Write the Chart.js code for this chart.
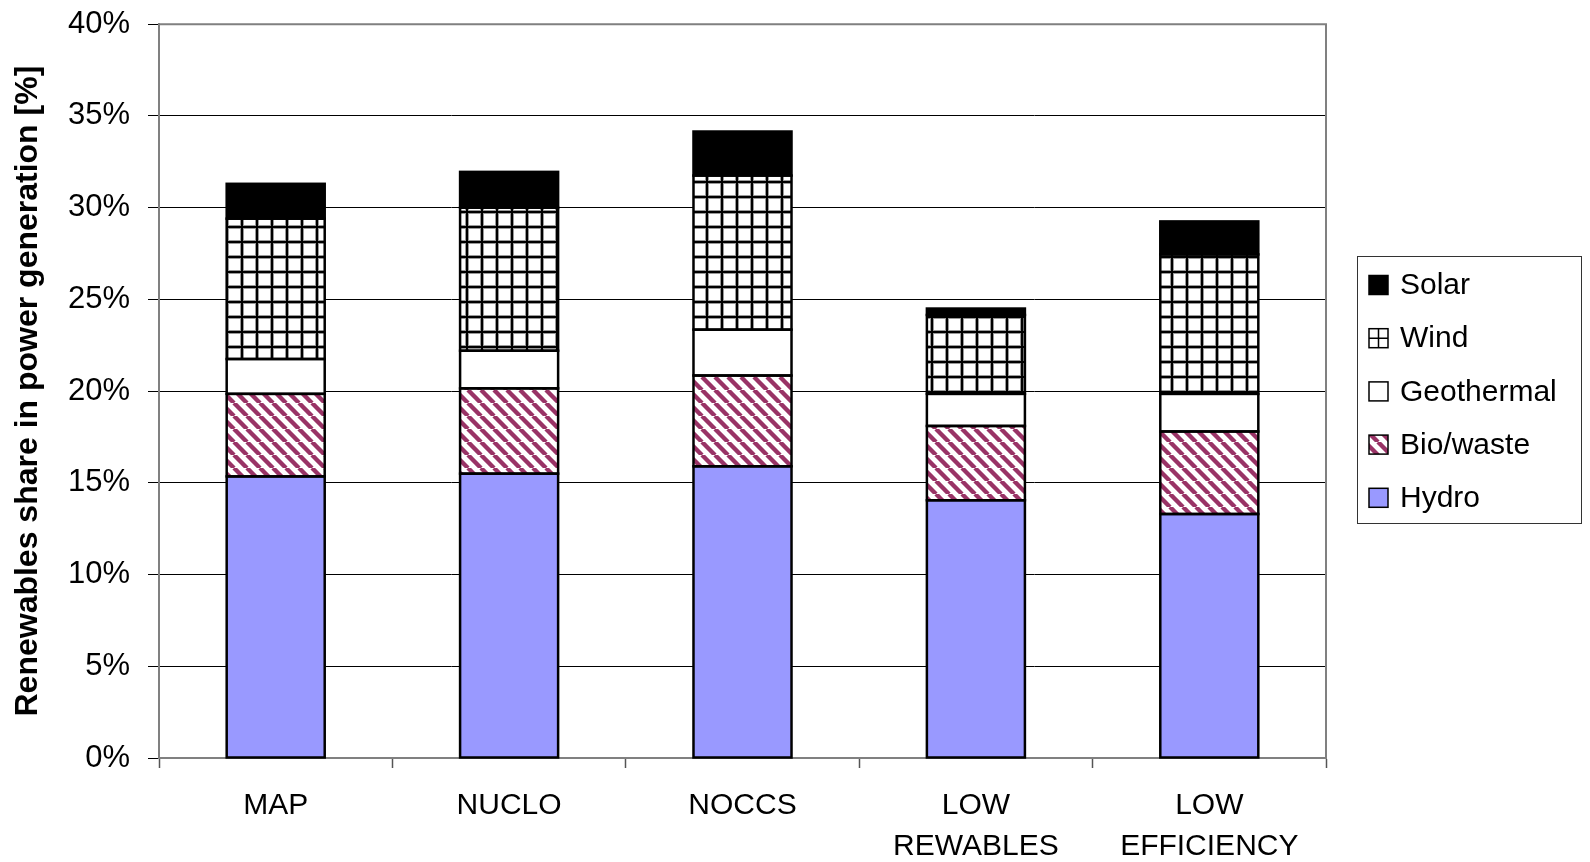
<!DOCTYPE html>
<html>
<head>
<meta charset="utf-8">
<script src="https://cdn.jsdelivr.net/npm/chart.js@4.4.0/dist/chart.umd.min.js"></script>
<style>
  body { margin: 0; background: #fff; }
</style>
</head>
<body>
<canvas id="renewablesChart" width="1590" height="862"></canvas>
<script>
const categories = [['MAP'], ['NUCLO'], ['NOCCS'], ['LOW', 'REWABLES'], ['LOW', 'EFFICIENCY']];
const hydro = [15.35, 15.5, 15.9, 14.05, 13.3];
const bioWaste = [4.5, 4.65, 4.95, 4.05, 4.5];
const geothermal = [1.9, 2.05, 2.5, 1.75, 2.05];
const wind = [7.65, 7.8, 8.4, 4.3, 7.6];
const solar = [1.9, 1.95, 2.4, 0.35, 1.8];
const yMax = 40;
const yStep = 5;

const FONT = 'Liberation Sans, Arial, sans-serif';

// grid pattern for wind
function makeGridPattern() {
  const c = document.createElement('canvas');
  c.width = 15; c.height = 15;
  const g = c.getContext('2d');
  g.fillStyle = '#fff';
  g.fillRect(0, 0, 15, 15);
  g.fillStyle = '#999';
  g.fillRect(0, 0, 15, 4);
  g.fillRect(0, 0, 4, 15);
  g.fillStyle = '#000';
  g.fillRect(0, 1, 15, 2);
  g.fillRect(1, 0, 2, 15);
  return g.createPattern(c, 'repeat');
}

// diagonal stripes for bio/waste
function makeStripePattern() {
  const s = 13;
  const c = document.createElement('canvas');
  c.width = s; c.height = s;
  const g = c.getContext('2d');
  g.fillStyle = '#fff';
  g.fillRect(0, 0, s, s);
  g.strokeStyle = '#993366';
  g.lineWidth = 4.4;
  for (const x of [-s, 0, s]) {
    g.beginPath();
    g.moveTo(x, 0);
    g.lineTo(x + s, s);
    g.stroke();
  }
  return g.createPattern(c, 'repeat');
}

const gridPattern = makeGridPattern();
const stripePattern = makeStripePattern();

function series(label, data, fill) {
  return {
    label: label,
    data: data,
    backgroundColor: fill,
    borderWidth: 0,
    barPercentage: 0.42,
    categoryPercentage: 1
  };
}

// bar outlines, gray frame around the plot, boxed legend
const framePlugin = {
  id: 'frame',
  afterDatasetsDraw(chart) {
    const { ctx, chartArea: a } = chart;
    ctx.save();
    ctx.strokeStyle = '#000';
    ctx.lineWidth = 2.5;
    chart.data.datasets.forEach((ds, i) => {
      chart.getDatasetMeta(i).data.forEach(bar => {
        const p = bar.getProps(['x', 'y', 'base', 'width'], true);
        ctx.strokeRect(p.x - p.width / 2, p.y, p.width, p.base - p.y);
      });
    });
    ctx.strokeStyle = '#808080';
    ctx.lineWidth = 2;
    ctx.beginPath();
    ctx.moveTo(a.left, a.top);
    ctx.lineTo(a.right, a.top);
    ctx.lineTo(a.right, a.bottom);
    ctx.stroke();
    ctx.restore();
  },
  afterDraw(chart) {
    const ctx = chart.ctx;
    const boxLeft = 1357, boxTop = 256, boxW = 224, boxH = 267;
    ctx.save();
    ctx.fillStyle = '#fff';
    ctx.fillRect(boxLeft, boxTop, boxW, boxH);
    ctx.strokeStyle = '#333';
    ctx.lineWidth = 1;
    ctx.strokeRect(boxLeft + 0.5, boxTop + 0.5, boxW, boxH);
    ctx.font = '30px ' + FONT;
    ctx.textBaseline = 'middle';
    const items = chart.data.datasets.slice().reverse();
    items.forEach((ds, i) => {
      const cy = 285 + i * 53.2;
      const sx = 1369, sz = 19;
      ctx.fillStyle = ds.backgroundColor;
      ctx.fillRect(sx, cy - sz / 2, sz, sz);
      ctx.strokeStyle = '#000';
      ctx.lineWidth = 1.5;
      if (ds.label === 'Wind') {
        ctx.fillStyle = '#fff';
        ctx.fillRect(sx, cy - sz / 2, sz, sz);
        ctx.beginPath();
        ctx.moveTo(sx + sz / 2, cy - sz / 2);
        ctx.lineTo(sx + sz / 2, cy + sz / 2);
        ctx.moveTo(sx, cy);
        ctx.lineTo(sx + sz, cy);
        ctx.stroke();
      }
      ctx.strokeRect(sx, cy - sz / 2, sz, sz);
      ctx.fillStyle = '#000';
      ctx.fillText(ds.label, 1400, cy + 1);
    });
    ctx.restore();
  }
};

const ctx = document.getElementById('renewablesChart').getContext('2d');
const renewablesChart = new Chart(ctx, {
  type: 'bar',
  data: {
    labels: categories,
    datasets: [
      series('Hydro', hydro, '#9999ff'),
      series('Bio/waste', bioWaste, stripePattern),
      series('Geothermal', geothermal, '#ffffff'),
      series('Wind', wind, gridPattern),
      series('Solar', solar, '#000000')
    ]
  },
  options: {
    responsive: false,
    animation: false,
    layout: { padding: { top: 0, right: 264, left: 0, bottom: 0 } },
    plugins: {
      legend: { display: false },
      tooltip: { enabled: false }
    },
    scales: {
      x: {
        stacked: true,
        grid: {
          display: true,
          drawOnChartArea: false,
          offset: true,
          tickLength: 10,
          tickColor: '#555',
          tickWidth: 1.5
        },
        border: { color: '#808080', width: 2 },
        ticks: {
          color: '#000',
          font: { family: FONT, size: 30, lineHeight: 1.37 },
          padding: 17,
          maxRotation: 0,
          autoSkip: false
        },
        afterFit(scale) { scale.height = 104; }
      },
      y: {
        stacked: true,
        min: 0,
        max: yMax,
        grid: {
          color: '#000',
          lineWidth: 1,
          tickLength: 11,
          tickColor: '#000'
        },
        border: { color: '#808080', width: 2 },
        ticks: {
          stepSize: yStep,
          color: '#000',
          padding: 18,
          font: { family: FONT, size: 31, lineHeight: 0.4 },
          callback: v => v + '%'
        },
        title: {
          display: true,
          text: 'Renewables share in power generation [%]',
          color: '#000',
          font: { family: FONT, size: 32, weight: 'bold' },
          padding: { top: 9, bottom: 0 }
        },
        afterFit(scale) { scale.width = 159; }
      }
    }
  },
  plugins: [framePlugin]
});
</script>
</body>
</html>
